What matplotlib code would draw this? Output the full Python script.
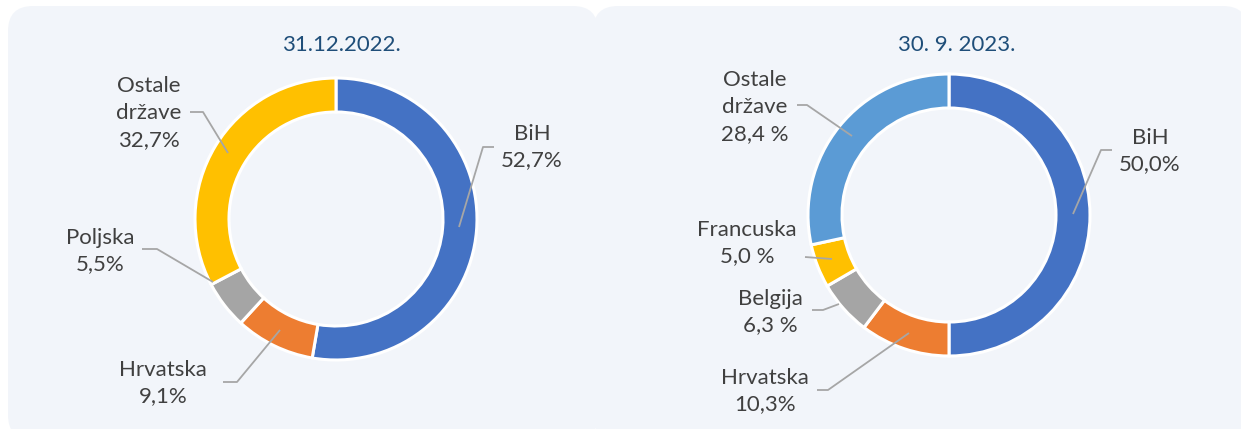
import matplotlib
matplotlib.use("Agg")
import matplotlib.pyplot as plt
from matplotlib.patches import FancyBboxPatch

plt.rcParams["font.family"] = ["Lato", "DejaVu Sans"]

# data
LEFT_TITLE = "31.12.2022."
LEFT_LABELS = ["BiH", "Hrvatska", "Poljska", "Ostale\ndržave"]
LEFT_VALUES = [52.7, 9.1, 5.5, 32.7]
LEFT_TEXT = ["52,7%", "9,1%", "5,5%", "32,7%"]

RIGHT_TITLE = "30. 9. 2023."
RIGHT_LABELS = ["BiH", "Hrvatska", "Belgija", "Francuska", "Ostale\ndržave"]
RIGHT_VALUES = [50.0, 10.3, 6.3, 5.0, 28.4]
RIGHT_TEXT = ["50,0%", "10,3%", "6,3 %", "5,0 %", "28,4 %"]

C_BLUE = "#4472C4"
C_ORANGE = "#ED7D31"
C_GREY = "#A5A5A5"
C_GOLD = "#FFC000"
C_LBLUE = "#5B9BD5"
LEFT_COLORS = [C_BLUE, C_ORANGE, C_GREY, C_GOLD]
RIGHT_COLORS = [C_BLUE, C_ORANGE, C_GREY, C_GOLD, C_LBLUE]

W, H = 1241, 429
PANEL = "#F2F5FA"
TXT = "#404040"
TITLE_C = "#1F4E79"
LINE_C = "#A6A6A6"

# label layout in image pixels (x, y from top): text centre, leader polyline
LEFT_LAYOUT = [
    ((532, 147), [(494, 147), (483, 147), (459, 227)]),
    ((163, 383), [(223, 382), (237, 382), (280, 330)]),
    ((100, 251), [(142, 249), (157, 249), (213, 282)]),
    ((149, 113), [(190, 112), (203, 112), (228, 153)]),
]
RIGHT_LAYOUT = [
    ((1150, 151), [(1112, 150), (1101, 150), (1073, 214)]),
    ((765, 391), [(817, 390), (828, 390), (909, 333)]),
    ((770, 312), [(812, 310), (823, 310), (839, 304)]),
    ((747, 243), [(805, 257), (832, 259)]),
    ((755, 107), [(797, 105), (807, 105), (852, 136)]),
]


def fy(y):
    return H - y


fig = plt.figure(figsize=(W / 100, H / 100), dpi=100, facecolor="white")
ax = fig.add_axes([0, 0, 1, 1])

for x0, x1 in [(8, 598), (593, 1248)]:
    ax.add_patch(FancyBboxPatch((x0 + 25, fy(440) + 25), x1 - x0 - 50, 434 - 50,
                                boxstyle="round,pad=25", fc=PANEL, ec="none", zorder=0))


def donut(cx, cy, values, colors, labels, texts, layout, title, tx):
    ax.pie(values, colors=colors, startangle=90, counterclock=False, radius=141,
           center=(cx, fy(cy)),
           wedgeprops=dict(width=34, edgecolor="white", linewidth=2.2), frame=True)
    for lab, t, ((lx, ly), pts) in zip(labels, texts, layout):
        ax.plot([p[0] for p in pts], [fy(p[1]) for p in pts], color=LINE_C, lw=1.3,
                zorder=5, solid_capstyle="butt")
        ax.text(lx, fy(ly), f"{lab}\n{t}", ha="center", va="center", fontsize=16,
                color=TXT, linespacing=1.42, zorder=6)
    ax.text(tx, fy(45), title, ha="center", va="center", fontsize=16, color=TITLE_C)


donut(336, 219, LEFT_VALUES, LEFT_COLORS, LEFT_LABELS, LEFT_TEXT, LEFT_LAYOUT, LEFT_TITLE, 341)
donut(949, 215, RIGHT_VALUES, RIGHT_COLORS, RIGHT_LABELS, RIGHT_TEXT, RIGHT_LAYOUT,
      RIGHT_TITLE, 957)

ax.set_xlim(0, W)
ax.set_ylim(0, H)
ax.set_aspect("auto")
ax.axis("off")

fig.savefig("out.png", dpi=100, facecolor="white")
